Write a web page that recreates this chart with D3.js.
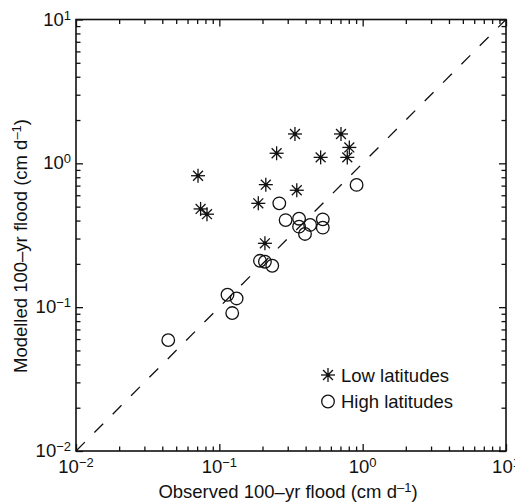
<!DOCTYPE html>
<html><head><meta charset="utf-8">
<script src="https://cdn.jsdelivr.net/npm/d3@7"></script>
<style>
html,body{margin:0;padding:0;background:#fff;}
text{font-family:"Liberation Sans",Arial,Helvetica,sans-serif;fill:#111;}
</style></head>
<body>
<svg id="c" width="515" height="504"></svg>
<script>
const lowObs = [0.071, 0.074, 0.082, 0.337, 0.706, 0.807, 0.781, 0.251, 0.509, 0.211, 0.347, 0.187, 0.208];
const lowMod = [0.82, 0.482, 0.443, 1.60, 1.60, 1.29, 1.10, 1.175, 1.10, 0.711, 0.65, 0.527, 0.278];
const highObs = [0.907, 0.262, 0.290, 0.360, 0.360, 0.430, 0.396, 0.527, 0.527, 0.192, 0.208, 0.234, 0.114, 0.132, 0.123, 0.044];
const highMod = [0.708, 0.527, 0.403, 0.412, 0.363, 0.373, 0.323, 0.408, 0.357, 0.210, 0.207, 0.194, 0.122, 0.115, 0.091, 0.059];
const majorTicks = [0.01, 0.1, 1, 10];
const tickExponents = ["−2", "−1", "0", "1"];
const legendLabels = ["Low latitudes", "High latitudes"];
const xTitle = "Observed 100–yr flood (cm d";
const yTitle = "Modelled 100–yr flood (cm d";
const titleSup = "–1";

const svg = d3.select("#c");
const L = 76, R = 506, T = 19.5, B = 451;
const x = d3.scaleLog().domain([0.01, 10]).range([L, R]);
const y = d3.scaleLog().domain([0.01, 10]).range([B, T]);

const minorTicks = [];
[0.01, 0.1, 1].forEach(d => { for (let k = 2; k <= 9; k++) minorTicks.push(d * k); });

function styleAxis(g){
  g.select(".domain").remove();
  g.selectAll("line").attr("stroke", "#111").attr("stroke-width", 1.3);
  g.selectAll("text").remove();
}
// major + minor ticks on four sides (inward)
[[majorTicks, 7], [minorTicks, 4.5]].forEach(([vals, len]) => {
  svg.append("g").attr("transform", `translate(0,${B})`).call(d3.axisBottom(x).tickValues(vals).tickSize(-len)).call(styleAxis);
  svg.append("g").attr("transform", `translate(0,${T})`).call(d3.axisTop(x).tickValues(vals).tickSize(-len)).call(styleAxis);
  svg.append("g").attr("transform", `translate(${L},0)`).call(d3.axisLeft(y).tickValues(vals).tickSize(-len)).call(styleAxis);
  svg.append("g").attr("transform", `translate(${R},0)`).call(d3.axisRight(y).tickValues(vals).tickSize(-len)).call(styleAxis);
});
// frame
svg.append("rect").attr("x", L).attr("y", T).attr("width", R - L).attr("height", B - T)
  .attr("fill", "none").attr("stroke", "#111").attr("stroke-width", 1.6);

// tick labels
majorTicks.forEach((v, i) => {
  const t = svg.append("text").attr("x", x(v)).attr("y", 473).attr("text-anchor", "middle").attr("font-size", 18.5);
  t.append("tspan").text("10");
  t.append("tspan").attr("dy", -6).attr("font-size", 13).text(tickExponents[i]);
  const u = svg.append("text").attr("x", L - 5).attr("y", y(v) + 6).attr("text-anchor", "end").attr("font-size", 18.5);
  u.append("tspan").text("10");
  u.append("tspan").attr("dy", -6).attr("font-size", 13).text(tickExponents[i]);
});

// axis titles
const xt = svg.append("text").attr("x", 288).attr("y", 498).attr("text-anchor", "middle").attr("font-size", 18.5);
xt.append("tspan").text(xTitle);
xt.append("tspan").attr("dy", -6).attr("font-size", 13).text(titleSup);
xt.append("tspan").attr("dy", 6).text(")");
const yt = svg.append("text").attr("transform", "translate(27,246) rotate(-90)").attr("text-anchor", "middle").attr("font-size", 18.5);
yt.append("tspan").text(yTitle);
yt.append("tspan").attr("dy", -6).attr("font-size", 13).text(titleSup);
yt.append("tspan").attr("dy", 6).text(")");

// 1:1 dashed line
svg.append("line").attr("x1", x(0.01)).attr("y1", y(0.01)).attr("x2", x(10)).attr("y2", y(10))
  .attr("stroke", "#111").attr("stroke-width", 1.3).attr("stroke-dasharray", "12.5,13.5");

function star(g, cx, cy){
  const r = 7;
  const s = g.append("g").attr("transform", `translate(${cx},${cy})`);
  [0, 45, 90, 135].forEach(a => {
    const rad = a * Math.PI / 180;
    s.append("line").attr("x1", -r * Math.cos(rad)).attr("y1", -r * Math.sin(rad))
      .attr("x2", r * Math.cos(rad)).attr("y2", r * Math.sin(rad))
      .attr("stroke", "#111").attr("stroke-width", 1.3);
  });
  s.append("circle").attr("r", 2).attr("fill", "#111");
}
function ring(g, cx, cy){
  g.append("circle").attr("cx", cx).attr("cy", cy).attr("r", 6.3)
    .attr("fill", "none").attr("stroke", "#111").attr("stroke-width", 1.3);
}

const pts = svg.append("g");
highObs.forEach((v, i) => ring(pts, x(v), y(highMod[i])));
lowObs.forEach((v, i) => star(pts, x(v), y(lowMod[i])));

// legend
star(svg, 328, 375);
ring(svg, 328, 401.5);
svg.append("text").attr("x", 341).attr("y", 381.5).attr("font-size", 18.5).text(legendLabels[0]);
svg.append("text").attr("x", 341).attr("y", 407.5).attr("font-size", 18.5).text(legendLabels[1]);
</script>
</body></html>
